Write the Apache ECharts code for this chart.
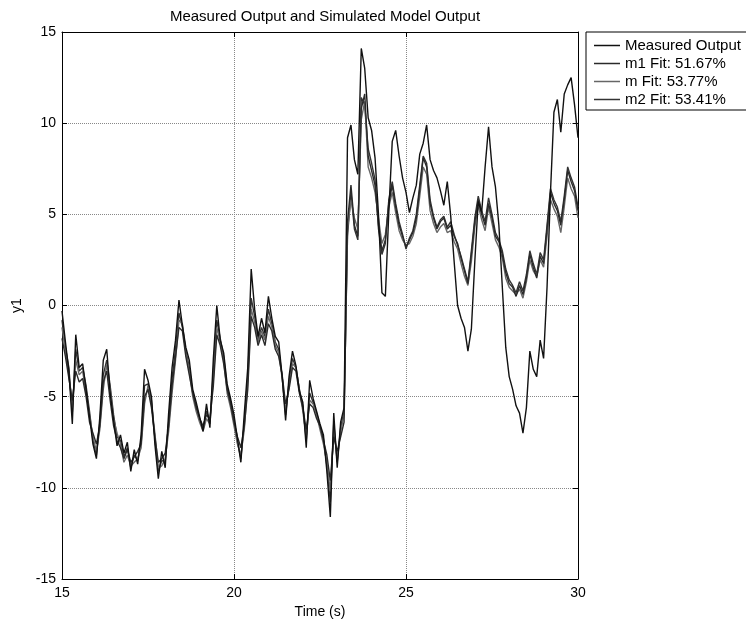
<!DOCTYPE html>
<html>
<head>
<meta charset="utf-8">
<script src="https://cdn.jsdelivr.net/npm/echarts@6/dist/echarts.min.js"></script>
<style>
  html, body { margin: 0; padding: 0; background: #fff; }
  #chart { width: 746px; height: 624px; }
</style>
</head>
<body>
<div id="chart"></div>
<script>
// sampling: 15.0 .. 30.0 s, step 0.1 s
var tStart = 15, tStep = 0.1;

var measured = [
    -0.3, -2.0, -3.6, -6.5, -1.6, -3.4, -3.2, -4.6, -6.1, -7.6,
    -8.4, -6.1, -3.0, -2.4, -4.8, -6.3, -7.7, -7.1, -8.1, -7.5,
    -9.1, -7.9, -8.7, -7.1, -3.5, -4.1, -5.0, -7.6, -9.5, -8.0,
    -8.9, -5.9, -3.4, -1.9, 0.3, -1.1, -2.3, -3.0, -4.6, -5.3,
    -6.1, -6.9, -5.4, -6.7, -2.9, 0.0, -1.9, -2.6, -4.3, -5.1,
    -6.0, -7.3, -8.6, -5.9, -3.4, 2.0, -0.2, -1.7, -0.7, -1.5,
    0.5, -0.7, -1.7, -2.0, -3.9, -6.3, -3.9, -2.5, -3.3, -4.7,
    -5.3, -7.8, -4.1, -5.1, -5.8, -6.5, -7.1, -9.1, -11.6, -5.9,
    -8.9, -6.4, -5.6, 9.2, 9.9, 8.0, 7.2, 14.1, 13.0, 10.3,
    9.6, 8.1, 5.0, 0.7, 0.5, 5.1, 9.0, 9.6, 8.2, 7.0,
    6.2, 5.1, 5.9, 6.6, 8.3, 8.9, 9.9, 8.0, 7.4, 7.0,
    6.3, 5.5, 6.8, 4.9, 2.4, 0.0, -0.7, -1.2, -2.5, -1.3,
    2.4, 5.7, 5.1, 7.6, 9.8, 7.6, 6.5, 4.4, 1.0, -2.3,
    -3.9, -4.6, -5.5, -5.9, -7.0, -5.6, -2.5, -3.5, -3.9, -1.9,
    -2.9, 1.0, 6.2, 10.6, 11.3, 9.5, 11.6, 12.1, 12.5, 11.0,
    9.2
];

var m1 = [
    -1.8, -2.8, -4.0, -5.2, -3.6, -4.2, -4.0, -5.0, -6.4, -7.0,
    -7.6, -6.6, -4.2, -3.6, -5.2, -6.6, -7.4, -7.8, -8.4, -7.9,
    -8.6, -8.3, -8.0, -7.6, -5.0, -4.6, -5.6, -7.2, -8.6, -8.4,
    -8.1, -6.6, -4.4, -2.8, -1.2, -1.4, -2.8, -3.8, -4.8, -5.6,
    -6.2, -6.6, -6.0, -6.2, -4.4, -1.6, -2.2, -3.2, -4.6, -5.4,
    -6.4, -7.2, -7.8, -6.6, -4.6, -0.6, -1.2, -2.2, -1.6, -2.2,
    -1.0, -1.4, -2.4, -2.8, -3.8, -5.4, -4.6, -3.4, -3.6, -4.8,
    -5.6, -6.8, -5.4, -5.6, -6.2, -6.6, -7.4, -8.2, -9.6, -7.2,
    -8.0, -7.2, -6.4, 4.6, 6.6, 4.4, 3.8, 10.8, 11.6, 8.2,
    7.4, 6.6, 4.4, 3.0, 3.6, 5.6, 6.6, 5.4, 4.4, 3.8,
    3.2, 3.6, 4.0, 4.8, 6.4, 8.1, 7.6, 5.6, 4.8, 4.2,
    4.6, 4.8, 4.2, 4.4, 3.8, 3.4, 2.6, 1.9, 1.2, 2.8,
    4.6, 5.8, 5.0, 4.4, 5.6, 4.8, 3.8, 3.5, 2.8, 1.8,
    1.2, 1.0, 0.5, 1.1, 0.6, 1.5, 2.8, 2.1, 1.5, 2.7,
    2.3, 4.2, 6.2, 5.6, 5.2, 4.4, 5.8, 7.4, 6.8, 6.3,
    5.2
];

var m = [
    -1.2, -2.5, -3.8, -5.6, -3.0, -3.8, -3.6, -4.8, -6.0, -7.2,
    -8.0, -6.8, -4.6, -3.2, -4.6, -6.2, -7.0, -7.6, -8.6, -8.2,
    -8.8, -8.6, -8.4, -7.8, -5.4, -4.4, -5.4, -7.0, -8.9, -8.8,
    -8.4, -6.9, -4.8, -3.0, -0.8, -1.0, -2.6, -3.6, -5.0, -5.8,
    -6.4, -6.9, -6.2, -6.5, -4.0, -1.2, -2.0, -3.0, -4.8, -5.6,
    -6.6, -7.6, -8.2, -6.8, -4.2, -0.2, -0.9, -2.0, -1.4, -1.9,
    -0.6, -1.2, -2.2, -2.6, -4.0, -5.8, -4.4, -3.2, -3.4, -4.6,
    -5.8, -7.2, -5.2, -5.4, -6.0, -6.8, -7.6, -8.6, -10.2, -6.8,
    -8.4, -6.9, -6.0, 4.2, 5.8, 4.8, 4.2, 10.2, 11.2, 7.6,
    7.0, 6.2, 4.8, 3.4, 3.9, 5.4, 6.2, 5.1, 4.1, 3.6,
    3.3, 3.4, 3.8, 4.5, 6.0, 7.6, 7.2, 5.2, 4.5, 4.0,
    4.3, 4.5, 4.0, 4.1, 3.5, 3.1, 2.3, 1.6, 1.1, 2.4,
    4.3, 5.5, 4.7, 4.1, 5.4, 4.5, 3.6, 3.2, 2.6, 1.5,
    1.0, 0.8, 0.6, 0.9, 0.4, 1.3, 2.5, 1.9, 1.6, 2.5,
    2.1, 3.8, 5.8, 5.3, 4.9, 4.0, 5.4, 7.0, 6.4, 6.0,
    4.8
];

var m2 = [
    -0.8, -2.3, -3.4, -5.9, -2.4, -3.6, -3.4, -4.4, -5.8, -7.4,
    -8.2, -6.4, -3.8, -3.0, -4.4, -6.0, -7.2, -7.4, -8.3, -7.8,
    -8.9, -8.2, -8.5, -7.4, -4.4, -4.3, -5.2, -7.3, -9.1, -8.5,
    -8.6, -6.4, -4.0, -2.4, -0.4, -1.2, -2.5, -3.4, -4.8, -5.5,
    -6.2, -6.8, -5.8, -6.4, -3.6, -0.8, -1.8, -2.8, -4.5, -5.3,
    -6.3, -7.5, -8.4, -6.4, -3.9, 0.4, -0.6, -1.9, -1.2, -1.7,
    -0.2, -1.0, -2.0, -2.4, -3.9, -6.0, -4.2, -2.9, -3.4, -4.6,
    -5.5, -7.4, -4.8, -5.3, -5.9, -6.6, -7.3, -8.8, -10.8, -6.4,
    -8.6, -6.7, -5.8, 3.8, 6.2, 4.2, 3.6, 11.4, 11.0, 8.6,
    7.8, 6.9, 4.2, 2.8, 3.4, 5.8, 6.8, 5.6, 4.6, 3.9,
    3.1, 3.7, 4.1, 5.0, 6.6, 8.2, 7.8, 5.8, 4.9, 4.3,
    4.7, 4.9, 4.3, 4.6, 3.9, 3.3, 2.7, 2.0, 1.3, 3.0,
    4.8, 6.0, 5.2, 4.6, 5.9, 5.0, 4.0, 3.6, 3.0, 2.0,
    1.4, 1.1, 0.7, 1.3, 0.8, 1.7, 3.0, 2.3, 1.7, 2.9,
    2.5, 4.4, 6.4, 5.8, 5.4, 4.6, 6.0, 7.6, 7.0, 6.5,
    5.4
];

var seriesNames = ['Measured Output', 'm1 Fit: 51.67%', 'm Fit: 53.77%', 'm2 Fit: 53.41%'];
var seriesColors = ['#111111', '#2a2a2a', '#666666', '#333333'];

function toPairs(arr) {
    var out = [];
    for (var i = 0; i < arr.length; i++) {
        out.push([Math.round((tStart + i * tStep) * 10) / 10, arr[i]]);
    }
    return out;
}

var font = 'Liberation Sans, Arial, sans-serif';
var axisLine = { show: true, onZero: false, lineStyle: { color: '#000', width: 1 } };
var tick = { show: true, inside: true, length: 5, lineStyle: { color: '#000' } };
var grid = { type: 'dotted', color: '#888', width: 1 };

var option = {
    backgroundColor: '#fff',
    animation: false,
    title: {
        text: 'Measured Output and Simulated Model Output',
        left: 320,
        textAlign: 'center',
        top: 4,
        textStyle: { fontFamily: font, fontSize: 15, fontWeight: 'normal', color: '#000' }
    },
    legend: {
        orient: 'vertical',
        left: 586,
        top: 32,
        data: seriesNames,
        icon: 'rect',
        backgroundColor: '#fff',
        borderColor: '#000',
        borderWidth: 1,
        padding: [6, 8, 3, 8],
        itemWidth: 26,
        itemHeight: 1.5,
        itemGap: 3,
        textStyle: { fontFamily: font, fontSize: 15, color: '#000', lineHeight: 15 }
    },
    grid: { left: 62, right: 168, top: 32, bottom: 45 },
    xAxis: [{
        type: 'value',
        min: 15, max: 30, interval: 5,
        name: 'Time (s)',
        nameLocation: 'middle',
        nameGap: 25,
        nameTextStyle: { fontFamily: font, fontSize: 14, color: '#000' },
        axisLine: axisLine,
        axisTick: tick,
        axisLabel: { fontFamily: font, fontSize: 14, color: '#000', margin: 7 },
        splitLine: { show: true, lineStyle: grid }
    }, {
        type: 'value', position: 'top',
        min: 15, max: 30, interval: 5,
        axisLine: axisLine, axisTick: tick,
        axisLabel: { show: false }, splitLine: { show: false }
    }],
    yAxis: [{
        type: 'value',
        min: -15, max: 15, interval: 5,
        name: 'y1',
        nameLocation: 'middle',
        nameGap: 38,
        nameRotate: 90,
        nameTextStyle: { fontFamily: font, fontSize: 14, color: '#000' },
        axisLine: axisLine,
        axisTick: tick,
        axisLabel: { fontFamily: font, fontSize: 14, color: '#000', margin: 6 },
        splitLine: { show: true, lineStyle: grid }
    }, {
        type: 'value', position: 'right',
        min: -15, max: 15, interval: 5,
        axisLine: axisLine, axisTick: tick,
        axisLabel: { show: false }, splitLine: { show: false }
    }],
    series: []
};

var allData = [measured, m1, m, m2];
for (var k = 0; k < allData.length; k++) {
    option.series.push({
        name: seriesNames[k],
        type: 'line',
        xAxisIndex: 0,
        yAxisIndex: 0,
        symbol: 'none',
        data: toPairs(allData[k]),
        lineStyle: { color: seriesColors[k], width: 1.4 },
        itemStyle: { color: seriesColors[k] },
        z: 10 - k
    });
}

var chart = echarts.init(document.getElementById('chart'));
chart.setOption(option);
</script>
</body>
</html>
